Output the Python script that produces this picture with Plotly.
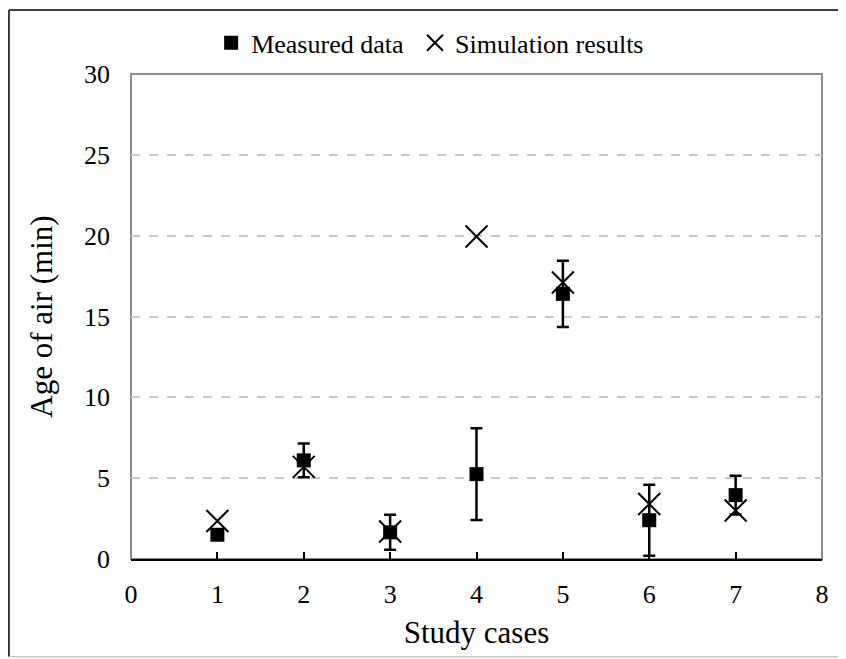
import plotly.graph_objects as go

cases = [1, 2, 3, 4, 5, 6, 7]
measured = [1.5, 6.1, 1.65, 5.25, 16.4, 2.4, 3.95]
measured_err = [0.2, 1.05, 1.08, 2.83, 2.05, 2.2, 1.2]
simulated = [2.35, 5.7, 1.7, 19.95, 17.1, 3.4, 3.0]

x_ticks = [0, 1, 2, 3, 4, 5, 6, 7, 8]
y_ticks = [0, 5, 10, 15, 20, 25, 30]

FONT = "Liberation Serif"
FS = 26

fig = go.Figure()
fig.add_trace(go.Scatter(
    x=cases, y=measured, mode="markers", name="Measured data\u00a0",
    marker=dict(symbol="square", size=14, color="black"),
    error_y=dict(type="data", array=measured_err, visible=True,
                 color="black", thickness=2.5, width=6),
))
fig.add_trace(go.Scatter(
    x=cases, y=simulated, mode="markers", name="Simulation results",
    marker=dict(symbol="x-thin-open", size=22, color="black",
                line=dict(color="black", width=2)),
))

fig.update_layout(
    width=846, height=659,
    margin=dict(l=123, r=32, t=65, b=108),
    paper_bgcolor="white", plot_bgcolor="white",
    font=dict(family=FONT, size=FS, color="black"),
    showlegend=True,
    legend=dict(orientation="h", x=0.116, xanchor="left", y=1.062, yanchor="middle",
                font=dict(family=FONT, size=FS, color="black"),
                itemsizing="trace", bgcolor="rgba(0,0,0,0)"),
    xaxis=dict(range=[0, 8], tickvals=x_ticks, ticktext=[str(v) for v in x_ticks],
               showgrid=False, zeroline=False, showline=True, linecolor="black",
               linewidth=2, ticks="inside", ticklen=7, tickwidth=1.5, tickcolor="black",
               ticklabelstandoff=11,
               title=dict(text="Study cases", standoff=13)),
    yaxis=dict(range=[0, 30], tickvals=y_ticks, ticktext=[str(v) for v in y_ticks],
               showgrid=True, gridcolor="#c8c8c8", griddash="dash", gridwidth=1.5,
               zeroline=False, showline=False, ticks="", ticklabelstandoff=20,
               title=dict(text="Age of air (min)", standoff=22)),
    shapes=[
        dict(type="rect", xref="paper", yref="paper", x0=0, x1=1, y0=0, y1=1,
             line=dict(color="#8c8c8c", width=2), layer="below"),
        dict(type="line", xref="paper", yref="paper", x0=-0.1766, x1=-0.1766,
             y0=-0.2016, y1=1.1322, line=dict(color="black", width=1.5), layer="below"),
        dict(type="line", xref="paper", yref="paper", x0=-0.1766, x1=1.05,
             y0=1.1322, y1=1.1322, line=dict(color="black", width=1.5), layer="below"),
        dict(type="line", xref="paper", yref="paper", x0=-0.1766, x1=1.05,
             y0=-0.2016, y1=-0.2016, line=dict(color="#c8c8c8", width=1.5), layer="below"),
    ],
)

fig.write_html("out.html")
